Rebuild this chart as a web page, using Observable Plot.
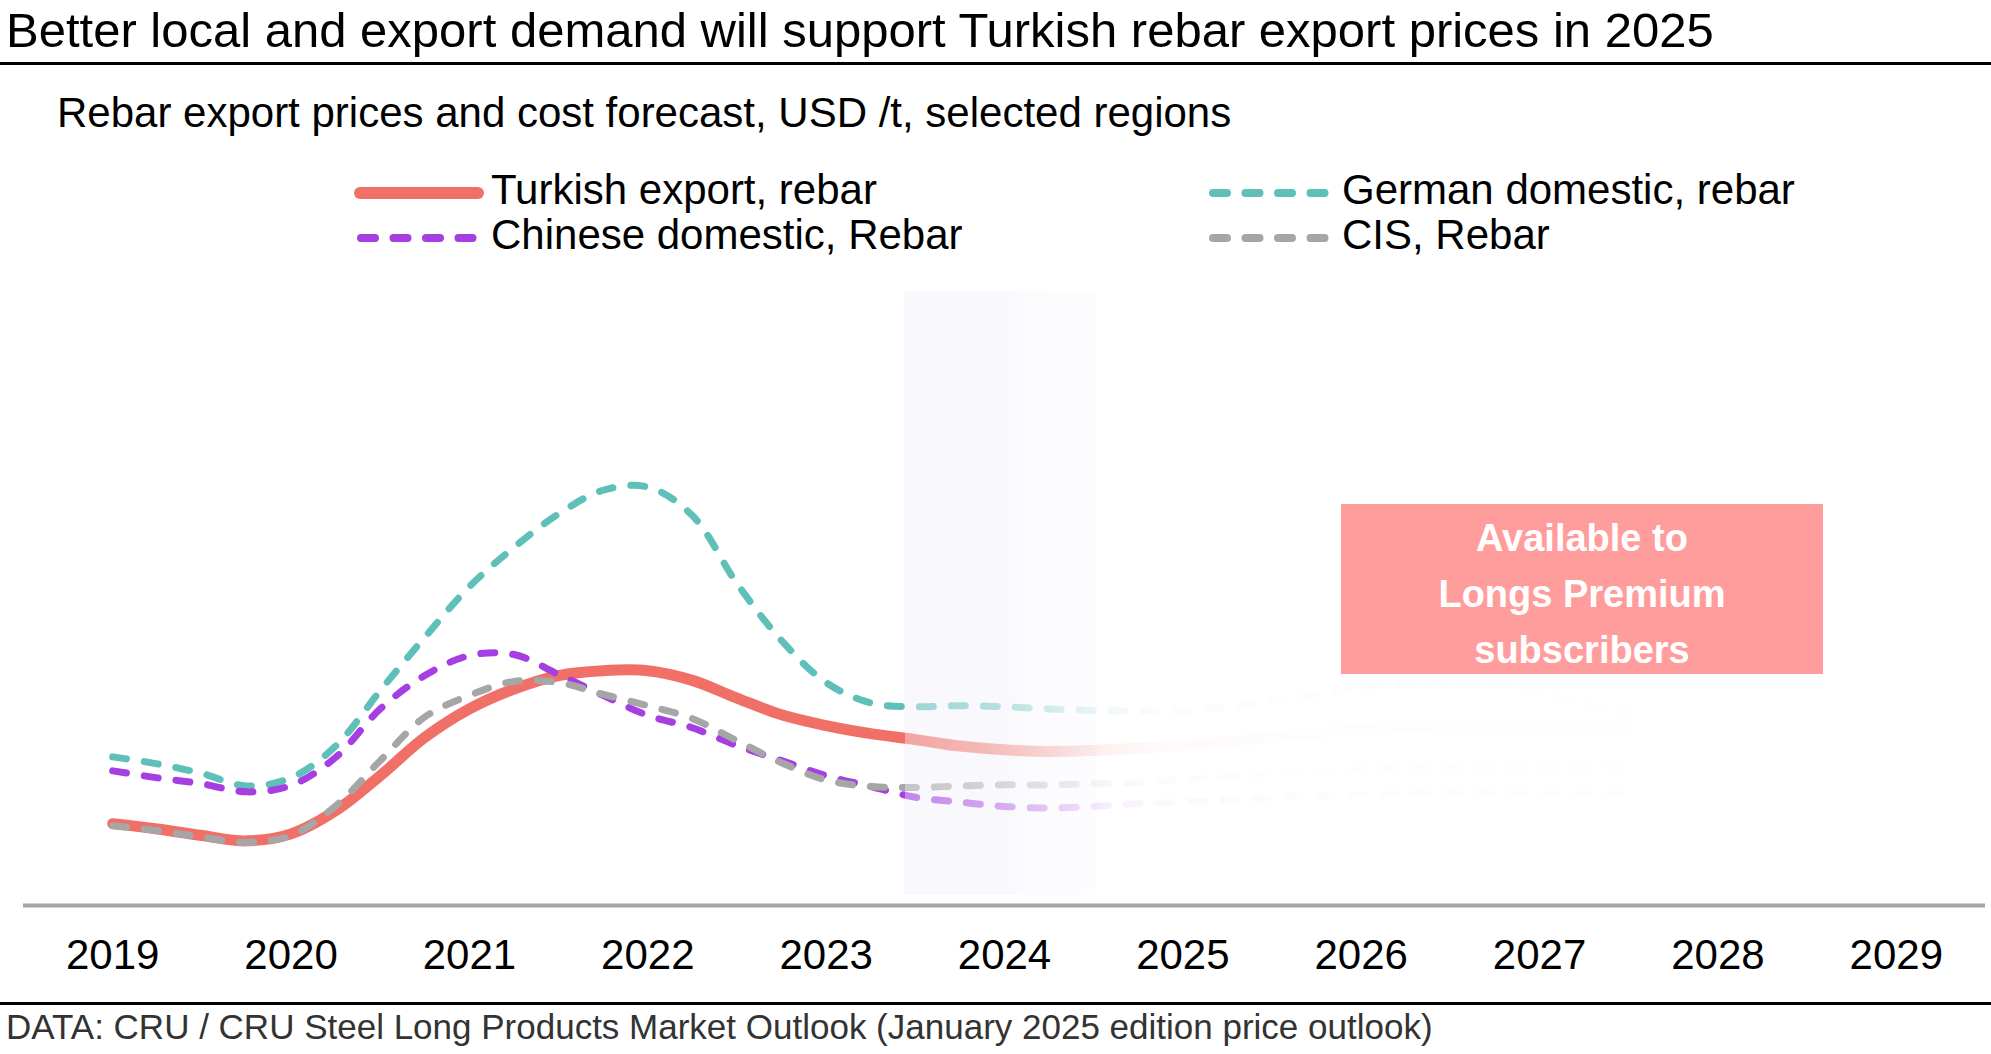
<!DOCTYPE html>
<html>
<head>
<meta charset="utf-8">
<script src="https://cdn.jsdelivr.net/npm/d3@7"></script>
<script src="https://cdn.jsdelivr.net/npm/@observablehq/plot@0.6"></script>
<style>
  html, body { margin: 0; padding: 0; background: #fff; }
  body { width: 1991px; height: 1054px; position: relative; overflow: hidden;
         font-family: "Liberation Sans", Arial, Helvetica, sans-serif; color: #000; }
  .abs { position: absolute; white-space: nowrap; line-height: 1; }
  .rule { position: absolute; left: 0; width: 1991px; height: 3px; background: #000; }
  #chart { position: absolute; left: 0; top: 270px; }
  .sw { position: absolute; }
  #premium { position: absolute; left: 1341px; top: 504px; width: 482px; height: 170px;
             background: #ff9d9d; color: #fff; font-weight: bold; font-size: 38px;
             text-align: center; line-height: 56px; padding-top: 6px; box-sizing: border-box;
             z-index: 5; }
</style>
</head>
<body>
<div class="abs" id="title" style="left:6px; top:6px; font-size:49px;">Better local and export demand will support Turkish rebar export prices in 2025</div>
<div class="rule" style="top:62px;"></div>
<div class="abs" id="subtitle" style="left:57px; top:92px; font-size:42px;">Rebar export prices and cost forecast, USD /t, selected regions</div>
<div id="legend"></div>
<div id="chart"></div>
<div id="premium">Available to<br>Longs Premium<br>subscribers</div>
<div class="rule" style="top:1002px;"></div>
<div class="abs" id="caption" style="left:6px; top:1009px; font-size:35px; color:#333;">DATA: CRU / CRU Steel Long Products Market Outlook (January 2025 edition price outlook)</div>

<script>
// ---------- data (USD/t, quarterly readings) ----------
const quarters = [2019, 2019.25, 2019.5, 2019.75, 2020, 2020.25, 2020.5, 2020.75,
                  2021, 2021.25, 2021.5, 2021.75, 2022, 2022.25, 2022.5, 2022.75,
                  2023, 2023.25, 2023.5, 2023.75, 2024, 2024.25, 2024.5, 2024.75,
                  2025, 2025.25, 2025.5, 2025.75, 2026, 2026.25, 2026.5, 2026.75,
                  2027, 2027.25, 2027.5];
const turkishExport = [470, 460, 448, 438, 451, 494, 559, 630, 683, 720, 745, 754, 754, 736, 703, 672,
                       652, 637, 626, 614, 607, 604, 606, 610, 615, 622, 630, 638, 645, 650, 653, 654,
                       652, 648, 643];
const germanDomestic = [594, 581, 563, 540, 555, 614, 717, 816, 910, 983, 1045, 1089, 1095, 1042, 916, 810,
                        732, 694, 687, 689, 687, 683, 680, 679, 680, 686, 697, 710, 722, 731, 734, 728,
                        713, 692, 676];
const chineseDomestic = [568, 555, 544, 529, 541, 593, 683, 745, 782, 784, 747, 708, 671, 648, 615, 587,
                         559, 539, 519, 510, 502, 499, 502, 507, 510, 515, 518, 522, 524, 526, 526, 526,
                         526, 526, 526];
const cisRebar = [466, 457, 445, 435, 448, 503, 587, 668, 708, 734, 732, 710, 689, 665, 624, 583,
                  551, 539, 537, 540, 542, 542, 544, 546, 552, 557, 563, 568, 572, 574, 574, 574,
                  574, 574, 574];
const seriesNames = ["Turkish export, rebar", "German domestic, rebar", "Chinese domestic, Rebar", "CIS, Rebar"];
const seriesColors = ["#f07068", "#5ec0b8", "#a53fe2", "#a6a6a6"];
const yearTicks = [2019, 2020, 2021, 2022, 2023, 2024, 2025, 2026, 2027, 2028, 2029];
const forecastBand = [[2023.44, 2024.52]];
// year -> opacity of the faded (premium) part of each line
const fadeStops = [[2018.5, 1], [2023.44, 1], [2023.44, 0.62], [2023.9, 0.46], [2024.25, 0.28],
                   [2024.55, 0.1], [2024.85, 0.035], [2025.5, 0.02], [2027.5, 0.015], [2029.5, 0]];
const bandStops = [[0, "#f8f8fd"], [0.55, "#f9f9fd"], [0.6, "#fbfbfe"], [1, "#fdfdff"]];
const xDomain = [2018.5, 2029.5];
const yDomain = [318, 1458];

// ---------- styles ----------
const lineStyles = [
  {width: 11, dash: null},
  {width: 7, dash: "14 18"},
  {width: 7, dash: "14 18"},
  {width: 7, dash: "14 18"}
];
const allValues = [turkishExport, germanDomestic, chineseDomestic, cisRebar];
const drawOrder = [0, 1, 2, 3];

const lineMarks = drawOrder.map(i =>
  Plot.lineY(allValues[i].map((v, j) => ({year: quarters[j], value: v})), {
    x: "year", y: "value", curve: "catmull-rom",
    stroke: `url(#fade${i})`, strokeWidth: lineStyles[i].width,
    strokeDasharray: lineStyles[i].dash, strokeLinecap: "round", strokeLinejoin: "round"
  })
);

const plot = Plot.plot({
  width: 1991,
  height: 730,
  marginTop: 21,
  marginBottom: 95,
  marginLeft: 23,
  marginRight: 6,
  style: {fontSize: "42px", fontFamily: "'Liberation Sans', Arial, sans-serif", background: "transparent", color: "#000"},
  x: {domain: xDomain, axis: null, label: null},
  y: {domain: yDomain, axis: null, label: null},
  marks: [
    Plot.rect(forecastBand, {x1: d => d[0], x2: d => d[1], fill: "url(#bandGrad)", insetBottom: 10}),
    ...lineMarks,
    Plot.ruleY([yDomain[0]], {stroke: "#a6a6a6", strokeWidth: 4}),
    Plot.axisX({ticks: yearTicks, tickFormat: d => String(d), tickSize: 0, tickPadding: 34, fontSize: 42, label: null})
  ]
});

// gradient defs for fading forecast part
const ns = "http://www.w3.org/2000/svg";
const xs = plot.scale("x");
const gx1 = xs.apply(xDomain[0]), gx2 = xs.apply(xDomain[1]);
const defs = document.createElementNS(ns, "defs");
seriesColors.forEach((c, i) => {
  const g = document.createElementNS(ns, "linearGradient");
  g.setAttribute("id", "fade" + i);
  g.setAttribute("gradientUnits", "userSpaceOnUse");
  g.setAttribute("x1", gx1); g.setAttribute("x2", gx2);
  g.setAttribute("y1", 0); g.setAttribute("y2", 0);
  fadeStops.forEach(([yr, op]) => {
    const st = document.createElementNS(ns, "stop");
    st.setAttribute("offset", (xs.apply(yr) - gx1) / (gx2 - gx1));
    st.setAttribute("stop-color", c);
    st.setAttribute("stop-opacity", op);
    g.appendChild(st);
  });
  defs.appendChild(g);
});
const bg = document.createElementNS(ns, "linearGradient");
bg.setAttribute("id", "bandGrad");
bandStops.forEach(([o, c]) => {
  const st = document.createElementNS(ns, "stop");
  st.setAttribute("offset", o);
  st.setAttribute("stop-color", c);
  bg.appendChild(st);
});
defs.appendChild(bg);
plot.insertBefore(defs, plot.firstChild);
document.getElementById("chart").appendChild(plot);

// ---------- legend ----------
const legendItems = [
  {i: 0, swX: 354, labelX: 491, cy: 193},
  {i: 1, swX: 1206, labelX: 1342, cy: 193},
  {i: 2, swX: 354, labelX: 491, cy: 238},
  {i: 3, swX: 1206, labelX: 1342, cy: 238}
];
const legend = document.getElementById("legend");
legendItems.forEach(({i, swX, labelX, cy}) => {
  const sv = document.createElementNS(ns, "svg");
  sv.setAttribute("width", 130); sv.setAttribute("height", 20);
  sv.setAttribute("class", "sw");
  sv.style.left = swX + "px"; sv.style.top = (cy - 10) + "px";
  const ln = document.createElementNS(ns, "line");
  const w = i === 0 ? 12 : 8;
  ln.setAttribute("x1", w / 2 + (i === 0 ? 0 : 3)); ln.setAttribute("x2", i === 0 ? 130 - w / 2 : 119);
  ln.setAttribute("y1", 10); ln.setAttribute("y2", 10);
  ln.setAttribute("stroke", seriesColors[i]); ln.setAttribute("stroke-width", w);
  ln.setAttribute("stroke-linecap", "round");
  if (i !== 0) ln.setAttribute("stroke-dasharray", "14 18.5");
  sv.appendChild(ln);
  legend.appendChild(sv);
  const lab = document.createElement("div");
  lab.className = "abs";
  lab.style.left = labelX + "px"; lab.style.top = (cy + 12 - 35.6) + "px";
  lab.style.fontSize = "42px";
  lab.textContent = seriesNames[i];
  legend.appendChild(lab);
});
</script>
</body>
</html>
